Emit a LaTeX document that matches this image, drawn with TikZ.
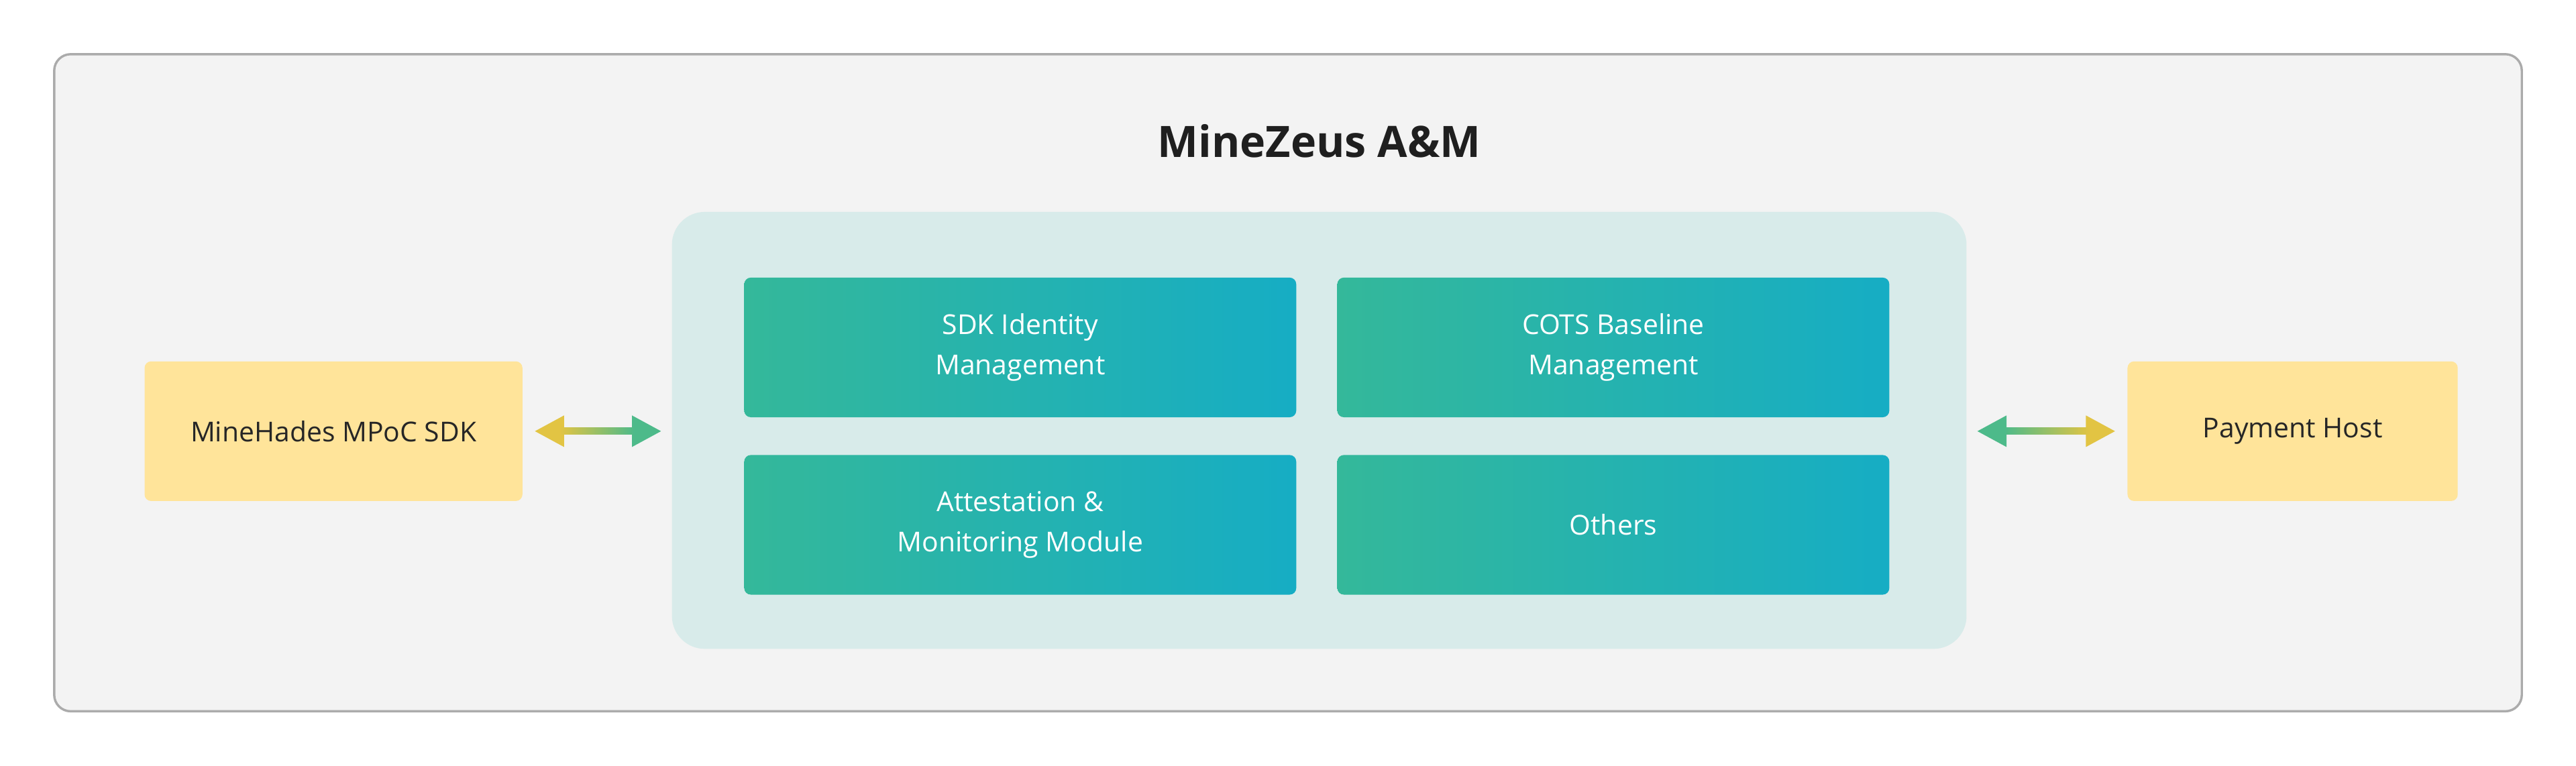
\documentclass[tikz,border=0pt]{standalone}
\usepackage{fontspec}
\setmainfont{Open Sans}
\usetikzlibrary{arrows.meta, positioning, calc}
\definecolor{framegray}{HTML}{F3F3F3}
\definecolor{frameline}{HTML}{ABABAB}
\definecolor{coreteal}{HTML}{D8EBEA}
\definecolor{gradgreen}{HTML}{34B89A}
\definecolor{gradblue}{HTML}{16ADC4}
\definecolor{sideyellow}{HTML}{FFE49A}
\definecolor{tipyellow}{HTML}{E2C443}
\definecolor{tipgreen}{HTML}{4DBA8A}
\tikzset{
    module/.style={rounded corners=0.08cm, left color=gradgreen, right color=gradblue,
        minimum width=6.72cm, minimum height=1.7cm, text=white, align=center,
        font=\fontsize{9.5}{14}\selectfont}, % teal gradient boxes
    side/.style={rounded corners=0.08cm, fill=sideyellow, minimum height=1.7cm,
        text=black!85, font=\fontsize{9.5}{14}\selectfont}, % yellow end boxes
    link/.style={line width=2.3pt, color=tipgreen!50!tipyellow},
}
\begin{document}
\begin{tikzpicture}
\useasboundingbox (0,0) rectangle (31.36,9.32);
\node[draw=frameline, fill=framegray, rounded corners=0.2cm, line width=0.8pt,
    minimum width=30.04cm, minimum height=8cm] (frame) at (15.68,4.66) {};
\node[font=\bfseries\fontsize{15}{18}\selectfont, text=black!88] (title) at (16.06,7.6) {MineZeus A\&M};
\node[fill=coreteal, rounded corners=0.4cm, minimum width=15.76cm, minimum height=5.32cm] (core) at (16.06,4.08) {};
\node[module] (sdkid) at (12.42,5.09) {SDK Identity\\Management};
\node[module] (cots) at (19.64,5.09) {COTS Baseline\\Management};
\node[module] (attest) at (12.42,2.93) {Attestation \&\\Monitoring Module};
\node[module] (others) at (19.64,2.93) {Others};
\node[side, minimum width=4.6cm] (hades) at (4.06,4.07) {MineHades MPoC SDK};
\node[side, minimum width=4.02cm] (payment) at (27.91,4.07) {Payment Host};
% links with gradient shafts
\draw[link, {Triangle[length=0.36cm, width=0.36cm, color=tipyellow]}-{Triangle[length=0.36cm, width=0.36cm, color=tipgreen]},
    shorten <=0.14cm, shorten >=0.12cm] (hades.east) -- (hades.east -| core.west);
\shade[left color=tipyellow, right color=tipgreen] ($(hades.east)+(0.45,-0.04)$) rectangle ($(hades.east -| core.west)+(-0.45,0.04)$);
\draw[link, {Triangle[length=0.36cm, width=0.36cm, color=tipgreen]}-{Triangle[length=0.36cm, width=0.36cm, color=tipyellow]},
    shorten <=0.12cm, shorten >=0.14cm] (payment.west -| core.east) -- (payment.west);
\shade[left color=tipgreen, right color=tipyellow] ($(payment.west -| core.east)+(0.45,-0.04)$) rectangle ($(payment.west)+(-0.45,0.04)$);
\end{tikzpicture}
\end{document}
